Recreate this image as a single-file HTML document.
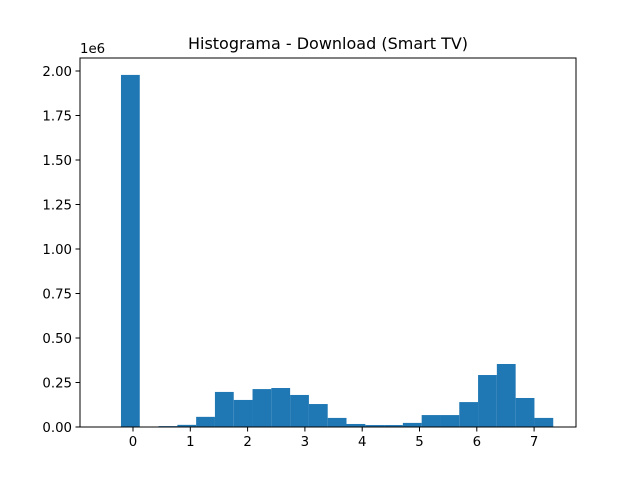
<!DOCTYPE html>
<html><head><meta charset="utf-8"><style>
body{margin:0;background:#fff}
svg text{font-family:"DejaVu Sans","Liberation Sans",sans-serif;fill:#000}
</style></head><body>
<svg id="chart" width="640" height="480" xmlns="http://www.w3.org/2000/svg">
<rect width="640" height="480" fill="#fff"/>
<text x="328" y="49" font-size="16" text-anchor="middle">Histograma - Download (Smart TV)</text>
<text x="80" y="53" font-size="13.3">1e6</text>
<g id="bars"></g>
<g id="axes"></g>
</svg>
<script>
const binStart = -0.21;
const binWidth = 0.328;
const counts = [1.978,0,0.005,0.012,0.057,0.197,0.152,0.213,0.219,0.180,0.129,0.051,0.017,0.011,0.011,0.023,0.067,0.067,0.140,0.292,0.354,0.163,0.051];
const xTicks = [0,1,2,3,4,5,6,7];
const yTicks = [0,0.25,0.5,0.75,1.0,1.25,1.5,1.75,2.0];
const yTickLabels = ["0.00","0.25","0.50","0.75","1.00","1.25","1.50","1.75","2.00"];

const L=80,R=576,T=58,B=427;
const xs = v => 133 + v*57.3;
const ys = v => 427 - v*178;
const NS="http://www.w3.org/2000/svg";
const bars=document.getElementById('bars');
counts.forEach((c,i)=>{
  const x0=xs(binStart+i*binWidth), x1=xs(binStart+(i+1)*binWidth);
  const r=document.createElementNS(NS,'rect');
  r.setAttribute('x',x0);r.setAttribute('width',x1-x0);
  r.setAttribute('y',ys(c));r.setAttribute('height',B-ys(c));
  r.setAttribute('fill','#1f77b4');
  
  
  bars.appendChild(r);
});
const ax=document.getElementById('axes');
const f=document.createElementNS(NS,'rect');
f.setAttribute('x',L);f.setAttribute('y',T);f.setAttribute('width',R-L);f.setAttribute('height',B-T);
f.setAttribute('fill','none');f.setAttribute('stroke','#000');f.setAttribute('stroke-width','1');


ax.appendChild(f);
xTicks.forEach(v=>{
  const x=xs(v);
  const l=document.createElementNS(NS,'line');
  l.setAttribute('x1',x);l.setAttribute('x2',x);l.setAttribute('y1',B);l.setAttribute('y2',B+4.5);l.setAttribute('stroke','#000');
  
  
  ax.appendChild(l);
  const t=document.createElementNS(NS,'text');
  t.setAttribute('x',x);t.setAttribute('y',B+19);t.setAttribute('font-size','13.3');t.setAttribute('text-anchor','middle');
  t.textContent=v;
  
  
  ax.appendChild(t);
});
yTicks.forEach((v,i)=>{
  const y=ys(v);
  const l=document.createElementNS(NS,'line');
  l.setAttribute('x1',L-4.5);l.setAttribute('x2',L);l.setAttribute('y1',y);l.setAttribute('y2',y);l.setAttribute('stroke','#000');
  
  
  ax.appendChild(l);
  const t=document.createElementNS(NS,'text');
  t.setAttribute('x',L-8);t.setAttribute('y',y+5);t.setAttribute('font-size','13.3');t.setAttribute('text-anchor','end');
  t.textContent=yTickLabels[i];
  
  
  ax.appendChild(t);
});
</script>
</body></html>
